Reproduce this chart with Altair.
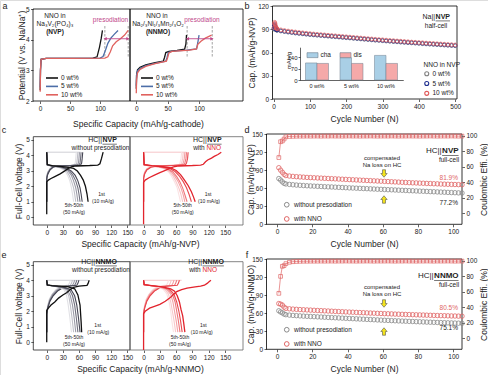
import altair as alt
import pandas as pd

FONT = "Liberation Sans"
W, H = 488, 375
INK = "#222222"
MAG = "#c0478a"
RED1 = "#e2242d"

# ======================= DATA =======================
# (a) first-charge profiles: (capacity mAh/g, potential V)
a_series = ["0 wt%", "5 wt%", "10 wt%"]
a_nvp = {
    "0 wt%": [(0, 2.35), (0.5, 3.0), (1.5, 3.36), (10, 3.39), (50, 3.39), (88, 3.40), (95, 3.44), (99, 3.75), (102, 4.05), (104, 4.3)],
    "5 wt%": [(0, 2.45), (0.5, 3.0), (1.5, 3.36), (10, 3.39), (50, 3.39), (100, 3.40), (105, 3.45), (109, 3.65), (113, 3.88), (118, 4.05), (124, 4.18), (130, 4.3)],
    "10 wt%": [(0, 2.3), (0.5, 3.0), (1.5, 3.36), (10, 3.39), (50, 3.39), (108, 3.40), (113, 3.44), (117, 3.6), (121, 3.8), (127, 3.93), (134, 4.03), (141, 4.15), (147, 4.3)],
}
a_nnmo = {
    "0 wt%": [(0, 2.4), (0.5, 2.85), (2, 3.02), (6, 3.1), (15, 3.18), (30, 3.25), (43, 3.3), (45, 3.42), (47, 3.58), (52, 3.62), (65, 3.65), (77, 3.69), (79, 3.85), (80, 4.15)],
    "5 wt%": [(0, 2.5), (0.5, 2.85), (2, 2.98), (6, 3.06), (15, 3.15), (30, 3.23), (47, 3.3), (49, 3.42), (51, 3.58), (56, 3.62), (80, 3.66), (96, 3.7), (98, 3.9), (100, 4.15)],
    "10 wt%": [(0, 2.25), (0.5, 2.7), (2, 2.92), (6, 3.03), (15, 3.13), (30, 3.22), (48, 3.3), (50, 3.42), (52, 3.57), (57, 3.62), (85, 3.66), (96, 3.7), (98, 3.85), (103, 3.95), (110, 4.05), (120, 4.15)],
}
a_nvp_dash_x = [108, 147]
a_nnmo_dash_x = [81, 121]
a_dash_lo, a_dash_hi = 3.45, 4.45
a_nvp_arrow = [108.5, 146.5]
a_nnmo_arrow = [81.5, 120.5]
a_arrow_v = 4.03

# (b) half-cell cycling
b_series = ["0 wt%", "5 wt%", "10 wt%"]
b_cycles = [1, 2, 3, 4, 5, 6, 7, 8, 9] + list(range(10, 501, 10))
b_gray = [90.0, 91.5, 91.0, 90.5, 90.0, 89.6, 89.3, 89.0, 88.8,
          88.6, 87.6, 86.9, 86.2, 85.6, 85.0, 84.5, 84.0, 83.5, 83.0,
          82.6, 82.2, 81.8, 81.4, 81.0, 80.6, 80.2, 79.8, 79.4, 79.0,
          78.6, 78.2, 77.8, 77.4, 77.0, 76.6, 76.2, 75.8, 75.5, 75.1,
          74.7, 74.4, 74.0, 73.7, 73.3, 73.0, 72.6, 72.3, 72.0, 71.7,
          71.3, 71.0, 70.7, 70.4, 70.1, 69.8, 69.5, 69.2, 68.9, 68.6]
b_blue = [91.0, 95.0, 96.0, 94.0, 92.0, 90.8, 90.0, 89.5, 89.2,
          89.0, 88.0, 87.3, 86.6, 86.0, 85.4, 84.9, 84.4, 83.9, 83.4,
          83.0, 82.6, 82.2, 81.8, 81.4, 81.0, 80.6, 80.2, 79.8, 79.4,
          79.0, 78.6, 78.2, 77.8, 77.4, 77.0, 76.6, 76.2, 75.9, 75.5,
          75.1, 74.8, 74.4, 74.1, 73.7, 73.4, 73.0, 72.7, 72.4, 72.1,
          71.7, 71.4, 71.1, 70.8, 70.5, 70.2, 69.9, 69.6, 69.3, 69.0]
b_red = [92.0, 97.0, 99.0, 97.5, 95.0, 93.0, 92.0, 91.3, 90.8,
         90.4, 89.2, 88.4, 87.7, 87.1, 86.5, 85.9, 85.4, 84.9, 84.4,
         83.9, 83.5, 83.1, 82.7, 82.3, 81.9, 81.5, 81.1, 80.7, 80.3,
         79.9, 79.5, 79.1, 78.7, 78.3, 77.9, 77.5, 77.1, 76.7, 76.4,
         76.0, 75.6, 75.3, 74.9, 74.6, 74.2, 73.9, 73.5, 73.2, 72.9,
         72.6, 72.2, 71.9, 71.6, 71.3, 71.0, 70.7, 70.4, 70.1, 69.8]
ins_groups = ["0 wt%", "5 wt%", "10 wt%"]
ins_kinds = ["cha", "dis"]
ins_cha = [104, 136, 150]
ins_dis = [101, 101, 101]

# (c) HC||NVP full-cell profiles: name -> (charge, discharge)
c_first = ([(0, 0.2), (0, 2.28), (3, 2.4), (8, 2.5), (15, 2.62), (25, 2.8), (33, 2.98), (40, 3.15), (47, 3.27), (55, 3.31), (80, 3.34), (95, 3.37), (99, 3.45), (102, 3.8), (105, 4.2)],
           [(0, 4.2), (1, 3.4), (10, 3.33), (25, 3.28), (40, 3.22), (50, 3.15), (57, 2.98), (63, 2.7), (68, 2.4), (72, 2.0), (75, 1.5), (77, 1.0)])
c_grad = {
    "50th": ([(0, 1.0), (0, 2.7), (2, 2.94), (6, 3.15), (12, 3.28), (20, 3.31), (42, 3.34), (51, 3.38), (53, 3.5), (54, 3.8), (55, 4.2)],
             [(0, 4.2), (1, 3.36), (10, 3.3), (20, 3.24), (27, 3.15), (34, 2.98), (39, 2.7), (43, 2.35), (46, 1.9), (48, 1.5), (50, 1.0)]),
    "35th": ([(0, 1.0), (0, 2.65), (2, 2.9), (6, 3.12), (12, 3.27), (20, 3.31), (45, 3.34), (54, 3.38), (56, 3.5), (57, 3.8), (58, 4.2)],
             [(0, 4.2), (1, 3.37), (10, 3.3), (22, 3.24), (30, 3.15), (37, 2.98), (42, 2.7), (46, 2.35), (50, 1.9), (52, 1.5), (54, 1.0)]),
    "20th": ([(0, 1.0), (0, 2.6), (2, 2.86), (6, 3.1), (12, 3.26), (20, 3.3), (45, 3.34), (57, 3.37), (59, 3.5), (60, 3.8), (61, 4.2)],
             [(0, 4.2), (1, 3.37), (12, 3.3), (24, 3.24), (32, 3.15), (40, 2.98), (46, 2.7), (50, 2.35), (54, 1.9), (56, 1.5), (58, 1.0)]),
    "10th": ([(0, 1.0), (0, 2.55), (2, 2.82), (6, 3.08), (12, 3.25), (20, 3.3), (45, 3.33), (60, 3.37), (62, 3.5), (63, 3.8), (64, 4.2)],
             [(0, 4.2), (1, 3.38), (12, 3.3), (26, 3.24), (35, 3.15), (43, 2.98), (49, 2.7), (54, 2.35), (58, 1.9), (60, 1.5), (62, 1.0)]),
    "5th": ([(0, 1.0), (0, 2.5), (2, 2.78), (6, 3.05), (12, 3.24), (20, 3.3), (45, 3.33), (63, 3.37), (65, 3.5), (66, 3.8), (67, 4.2)],
            [(0, 4.2), (1, 3.38), (12, 3.3), (28, 3.24), (38, 3.15), (46, 2.98), (53, 2.7), (58, 2.35), (62, 1.9), (64, 1.5), (66, 1.0)]),
}
c_top = (63, 4.2)
c_nno_first = ([(0, -0.45), (0, 2.25), (3, 2.4), (10, 2.55), (20, 2.72), (30, 2.88), (40, 3.03), (48, 3.15), (55, 3.25), (65, 3.31), (90, 3.34), (105, 3.37), (110, 3.42), (114, 3.58), (118, 3.7), (125, 3.82), (130, 3.93), (137, 4.05), (143, 4.2)],
               [(0, 4.2), (1, 3.4), (15, 3.33), (35, 3.26), (50, 3.18), (60, 3.02), (68, 2.75), (75, 2.42), (82, 2.05), (88, 1.65), (92, 1.3), (95, 1.0)])
c_nno_grad = {
    "50th": ([(0, 1.0), (0, 2.7), (2, 2.94), (6, 3.15), (14, 3.28), (25, 3.31), (48, 3.35), (65, 3.38), (67, 3.5), (69, 3.8), (70, 4.2)],
             [(0, 4.2), (1, 3.37), (12, 3.3), (27, 3.24), (38, 3.12), (46, 2.92), (52, 2.62), (57, 2.27), (62, 1.88), (65, 1.45), (68, 1.0)]),
    "35th": ([(0, 1.0), (0, 2.65), (2, 2.9), (6, 3.12), (14, 3.27), (25, 3.31), (50, 3.35), (68, 3.38), (70, 3.5), (72, 3.8), (73, 4.2)],
             [(0, 4.2), (1, 3.37), (13, 3.3), (29, 3.24), (40, 3.12), (48, 2.92), (55, 2.62), (60, 2.27), (65, 1.88), (69, 1.45), (72, 1.0)]),
    "20th": ([(0, 1.0), (0, 2.6), (2, 2.88), (6, 3.1), (14, 3.26), (25, 3.31), (52, 3.34), (71, 3.38), (73, 3.5), (75, 3.8), (76, 4.2)],
             [(0, 4.2), (1, 3.38), (14, 3.3), (31, 3.24), (43, 3.12), (51, 2.92), (58, 2.62), (64, 2.27), (69, 1.88), (73, 1.45), (76, 1.0)]),
    "10th": ([(0, 1.0), (0, 2.55), (2, 2.84), (6, 3.08), (14, 3.25), (25, 3.3), (55, 3.34), (74, 3.38), (76, 3.5), (78, 3.8), (79, 4.2)],
             [(0, 4.2), (1, 3.38), (15, 3.31), (33, 3.24), (45, 3.12), (54, 2.92), (61, 2.62), (67, 2.27), (72, 1.88), (76, 1.45), (80, 1.0)]),
    "5th": ([(0, 1.0), (0, 2.5), (2, 2.8), (6, 3.05), (14, 3.24), (25, 3.3), (55, 3.34), (77, 3.38), (79, 3.5), (81, 3.8), (82, 4.2)],
            [(0, 4.2), (1, 3.4), (15, 3.32), (35, 3.25), (48, 3.15), (58, 2.95), (66, 2.65), (73, 2.3), (79, 1.9), (84, 1.45), (88, 1.0)]),
}
c_nno_top = (79, 4.2)

# (e) HC||NNMO full-cell profiles
e_first = ([(0, 0.0), (0, 2.05), (3, 2.2), (8, 2.4), (15, 2.6), (22, 2.85), (30, 3.05), (37, 3.2), (44, 3.4), (50, 3.55), (60, 3.62), (75, 3.67), (77, 3.8), (79, 4.0)],
           [(0, 4.0), (1, 3.7), (10, 3.66), (37, 3.6), (52, 3.45), (58, 3.06), (62, 2.4), (64, 1.33), (65, 0.65)])
e_grad = {
    "50th": ([(0, 0.65), (0, 2.0), (2, 2.4), (5, 2.8), (10, 3.1), (16, 3.36), (23, 3.56), (32, 3.64), (40, 3.69), (42, 3.8), (44, 4.0)],
             [(0, 4.0), (1, 3.7), (8, 3.65), (22, 3.56), (32, 3.4), (37, 3.0), (40, 2.4), (43, 1.6), (46, 0.65)]),
    "35th": ([(0, 0.65), (0, 1.95), (2, 2.35), (5, 2.75), (10, 3.08), (17, 3.35), (25, 3.55), (34, 3.63), (44, 3.68), (46, 3.8), (48, 4.0)],
             [(0, 4.0), (1, 3.7), (8, 3.65), (24, 3.56), (35, 3.4), (41, 3.0), (44, 2.4), (47, 1.6), (50, 0.65)]),
    "20th": ([(0, 0.65), (0, 1.9), (2, 2.3), (6, 2.75), (11, 3.07), (18, 3.33), (27, 3.54), (36, 3.63), (48, 3.68), (50, 3.8), (52, 4.0)],
             [(0, 4.0), (1, 3.7), (9, 3.65), (26, 3.56), (38, 3.4), (44, 3.0), (48, 2.4), (51, 1.6), (54, 0.65)]),
    "10th": ([(0, 0.65), (0, 1.85), (2, 2.25), (6, 2.7), (12, 3.05), (20, 3.33), (29, 3.53), (38, 3.62), (52, 3.68), (54, 3.8), (56, 4.0)],
             [(0, 4.0), (1, 3.7), (10, 3.65), (28, 3.56), (42, 3.4), (48, 3.0), (52, 2.4), (55, 1.6), (58, 0.65)]),
    "5th": ([(0, 0.65), (0, 1.8), (2, 2.2), (6, 2.65), (12, 3.0), (20, 3.3), (30, 3.52), (40, 3.62), (56, 3.68), (58, 3.8), (60, 4.0)],
            [(0, 4.0), (1, 3.7), (10, 3.65), (30, 3.56), (45, 3.4), (52, 3.0), (56, 2.4), (59, 1.6), (62, 0.65)]),
}
e_top = (77, 4.0)
e_nno_first = ([(0, -0.5), (0, 1.85), (3, 2.0), (11, 2.2), (20, 2.32), (30, 2.45), (40, 2.65), (48, 2.85), (55, 3.08), (61, 3.27), (70, 3.4), (80, 3.5), (95, 3.57), (105, 3.62), (112, 3.68), (117, 3.8), (121, 3.92), (124, 4.0)],
               [(0, 4.0), (1, 3.72), (15, 3.66), (35, 3.58), (50, 3.45), (57, 3.3), (62, 3.0), (66, 2.6), (69, 2.1), (72, 1.7), (74, 1.2), (76, 0.65)])
e_nno_grad = {
    "50th": ([(0, 0.65), (0, 2.0), (2, 2.4), (5, 2.8), (10, 3.1), (16, 3.36), (23, 3.56), (32, 3.64), (42, 3.69), (44, 3.8), (46, 4.0)],
             [(0, 4.0), (1, 3.7), (9, 3.66), (24, 3.58), (36, 3.42), (43, 3.1), (47, 2.6), (50, 2.0), (52, 1.4), (55, 0.65)]),
    "35th": ([(0, 0.65), (0, 1.95), (2, 2.35), (5, 2.75), (10, 3.08), (17, 3.35), (25, 3.55), (34, 3.63), (47, 3.68), (49, 3.8), (51, 4.0)],
             [(0, 4.0), (1, 3.71), (10, 3.66), (26, 3.58), (39, 3.42), (46, 3.1), (50, 2.6), (53, 2.0), (56, 1.4), (59, 0.65)]),
    "20th": ([(0, 0.65), (0, 1.9), (2, 2.3), (6, 2.75), (11, 3.07), (18, 3.33), (27, 3.54), (37, 3.63), (52, 3.68), (54, 3.8), (56, 4.0)],
             [(0, 4.0), (1, 3.71), (11, 3.66), (28, 3.58), (42, 3.42), (50, 3.1), (54, 2.6), (57, 2.0), (60, 1.4), (63, 0.65)]),
    "10th": ([(0, 0.65), (0, 1.85), (2, 2.25), (6, 2.7), (12, 3.05), (20, 3.33), (30, 3.53), (40, 3.62), (57, 3.68), (59, 3.8), (61, 4.0)],
             [(0, 4.0), (1, 3.72), (12, 3.66), (30, 3.58), (45, 3.42), (53, 3.1), (58, 2.6), (61, 2.0), (64, 1.4), (67, 0.65)]),
    "5th": ([(0, 0.65), (0, 1.8), (2, 2.2), (6, 2.65), (12, 3.0), (20, 3.3), (30, 3.52), (42, 3.62), (62, 3.68), (64, 3.8), (66, 4.0)],
            [(0, 4.0), (1, 3.72), (12, 3.66), (32, 3.58), (48, 3.42), (56, 3.1), (61, 2.6), (65, 2.0), (68, 1.4), (71, 0.65)]),
}
e_nno_top = (70, 4.0)

# (d)/(f) full-cell cycling
full_series = ["without presodiation", "with NNO"]
d_cycles = [1, 2, 3, 4] + list(range(5, 106, 2))
d_gray = [76.0, 73.5, 70.5, 68.0,
          67.0, 66.3, 65.7, 65.2, 64.8, 64.4, 64.0, 63.7, 63.4, 63.1,
          62.8, 62.5, 62.2, 62.0, 61.7, 61.4, 61.1, 60.8, 60.5, 60.3,
          60.0, 59.7, 59.4, 59.2, 58.9, 58.6, 58.3, 58.1, 57.8, 57.5,
          57.3, 57.0, 56.7, 56.5, 56.2, 55.9, 55.7, 55.4, 55.1, 54.9,
          54.6, 54.3, 54.1, 53.8, 53.5, 53.3, 53.0, 52.7, 52.5, 52.2,
          52.0]
d_red = [94.0, 90.0, 86.5, 83.0,
         81.0, 80.2, 79.6, 79.1, 78.7, 78.3, 77.9, 77.6, 77.3, 77.0,
         76.7, 76.4, 76.1, 75.8, 75.5, 75.2, 74.9, 74.6, 74.3, 74.0,
         73.7, 73.4, 73.1, 72.8, 72.5, 72.2, 71.9, 71.6, 71.3, 71.0,
         70.7, 70.4, 70.1, 69.8, 69.5, 69.2, 68.9, 68.7, 68.4, 68.2,
         67.9, 67.7, 67.4, 67.2, 66.9, 66.7, 66.5, 66.3, 66.1, 65.9,
         65.7]
d_ce = [72.0, 92.5, 93.5, 96.0,
        98.8, 99.3, 99.5, 99.6, 99.7, 99.7, 99.8, 99.7, 99.8, 99.8,
        99.7, 99.8, 99.8, 99.9, 99.8, 99.8, 99.7, 99.8, 99.9, 99.8,
        99.8, 99.7, 99.8, 99.8, 99.9, 99.8, 99.7, 99.8, 99.8, 99.8,
        99.9, 99.8, 99.7, 99.8, 99.8, 99.9, 99.8, 99.8, 99.7, 99.8,
        99.8, 99.9, 99.8, 99.7, 99.8, 99.8, 99.8, 99.9, 99.8, 99.7,
        99.8]
f_gray = [64.0, 62.0, 60.5, 58.5,
          57.5, 56.8, 56.3, 55.9, 55.5, 55.1, 54.8, 54.5, 54.2, 53.9,
          53.6, 53.3, 53.0, 52.7, 52.4, 52.1, 51.8, 51.5, 51.2, 50.9,
          50.6, 50.3, 50.0, 49.7, 49.4, 49.1, 48.8, 48.5, 48.2, 48.0,
          47.7, 47.4, 47.2, 46.9, 46.7, 46.4, 46.2, 45.9, 45.7, 45.5,
          45.2, 45.0, 44.8, 44.6, 44.4, 44.2, 44.0, 43.8, 43.6, 43.4,
          43.2]
f_red = [76.0, 75.0, 73.5, 70.0,
         68.0, 67.3, 66.8, 66.4, 66.0, 65.7, 65.4, 65.1, 64.8, 64.5,
         64.2, 63.9, 63.6, 63.3, 63.0, 62.7, 62.4, 62.1, 61.8, 61.6,
         61.3, 61.0, 60.8, 60.5, 60.2, 60.0, 59.7, 59.5, 59.2, 59.0,
         58.8, 58.5, 58.3, 58.1, 57.9, 57.7, 57.5, 57.3, 57.1, 56.9,
         56.7, 56.5, 56.3, 56.1, 55.9, 55.8, 55.6, 55.4, 55.3, 55.1,
         55.0]
f_ce = [58.0, 80.0, 93.0, 94.0,
        96.5, 98.3, 99.0, 99.3, 99.5, 99.6, 99.6, 99.7, 99.7, 99.7,
        99.8, 99.7, 99.8, 99.8, 99.7, 99.8, 99.8, 99.9, 99.8, 99.8,
        99.7, 99.8, 99.8, 99.9, 99.8, 99.7, 99.8, 99.8, 99.8, 99.9,
        99.8, 99.7, 99.8, 99.8, 99.9, 99.8, 99.8, 99.7, 99.8, 99.8,
        99.9, 99.8, 99.7, 99.8, 99.8, 99.8, 99.9, 99.8, 99.7, 99.8,
        99.8]

# ======================= STYLE =======================
A_COLORS = ["#141414", "#4c6ea8", "#e0625e"]
B_COLORS = ["#808080", "#1f2f8f", "#e05a5a"]
GRAY_GRAD = ["#e2e2e6", "#c0c0c8", "#9a9aa6", "#70707e", "#474755"]
RED_GRAD = ["#fbe3e4", "#f8c8ca", "#f4a3a6", "#ee787c", "#e8474e"]
FULL_COLORS = ["#8a8a8a", "#e06666"]
INS_COLORS = ["#a9cfe6", "#f5a9a9"]


def sc(dom, rng):
    return alt.Scale(domain=list(dom), range=list(rng), nice=False, zero=False)


def mk_axis(orient, offset, values, title=None, tx=0, ty=0, angle=None, size=6.5):
    kw = dict(orient=orient, offset=offset, values=values, grid=False, domain=False,
              tickSize=2.5, tickWidth=0.7, tickColor=INK, labelColor=INK,
              labelFont=FONT, labelFontSize=size, labelPadding=1.5, labelAngle=0)
    if title is None:
        kw["title"] = None
    else:
        kw.update(title=title, titleX=tx, titleY=ty, titleFont=FONT, titleFontSize=8.5,
                  titleFontWeight="normal", titleColor=INK, titleAlign="center",
                  titleBaseline="middle")
        if angle is not None:
            kw["titleAngle"] = angle
    return alt.Axis(**kw)


def frame(xs, ys, xd, yd, xaxis, yaxis, color=INK):
    df = pd.DataFrame({"x0": [xd[0]], "x1": [xd[1]], "y0": [yd[0]], "y1": [yd[1]]})
    return alt.Chart(df).mark_rect(filled=False, color=color, strokeWidth=0.8).encode(
        x=alt.X("x0:Q", scale=xs, axis=xaxis), x2="x1:Q",
        y=alt.Y("y0:Q", scale=ys, axis=yaxis), y2="y1:Q")


def rows_of(name, pts):
    return [{"s": name, "x": x, "y": y, "i": i} for i, (x, y) in enumerate(pts)]


def grad_layers(curves, colors, xs, ys, width=1.1):
    out = []
    for part in (0, 1):
        rows = []
        for name, parts in curves.items():
            rows += rows_of(name, parts[part])
        out.append(alt.Chart(pd.DataFrame(rows)).mark_line(strokeWidth=width).encode(
            x=alt.X("x:Q", scale=xs, axis=None), y=alt.Y("y:Q", scale=ys, axis=None),
            color=alt.Color("s:N", scale=alt.Scale(domain=list(curves), range=colors), legend=None),
            order="i:Q"))
    return out


def first_layers(curve, color, xs, ys, width=1.3):
    return [alt.Chart(pd.DataFrame(rows_of("1st", pts))).mark_line(strokeWidth=width, color=color).encode(
        x=alt.X("x:Q", scale=xs, axis=None), y=alt.Y("y:Q", scale=ys, axis=None), order="i:Q")
        for pts in curve]


def top_layer(seg, color, xs, ys):
    df = pd.DataFrame({"x0": [0], "x1": [seg[0]], "v": [seg[1]]})
    return alt.Chart(df).mark_rule(color=color, strokeWidth=1.0).encode(
        x=alt.X("x0:Q", scale=xs, axis=None), x2="x1:Q", y=alt.Y("v:Q", scale=ys, axis=None))


def T(text, x, y, size=6.5, color=INK, weight="normal", align="center"):
    return alt.Chart(pd.DataFrame({"t": [text]})).mark_text(
        font=FONT, fontSize=size, color=color, fontWeight=weight, align=align, baseline="middle"
    ).encode(x=alt.value(x), y=alt.value(y), text="t:N")


def U(x1, x2, y, color=INK):
    return alt.Chart(pd.DataFrame({"k": [0]})).mark_rule(color=color, strokeWidth=0.6).encode(
        x=alt.value(x1), x2=alt.value(x2), y=alt.value(y))


def SYM(shape, x, y, size, fill, stroke="#555555"):
    return alt.Chart(pd.DataFrame({"k": [0]})).mark_point(
        shape=shape, size=size, filled=True, fill=fill, stroke=stroke, strokeWidth=0.6, opacity=1
    ).encode(x=alt.value(x), y=alt.value(y))


EM = {"HC||": 1.964, "Na||": 1.798, "NVP": 2.056, "NNMO": 3.055}


def cell_label(prefix, bold, split, y, size):
    w = EM[bold] * size
    return [T(prefix, split, y, size, align="right"),
            T(bold, split + 0.5, y, size, weight="bold", align="left"),
            U(split + 0.5, split + 0.5 + w, y + size * 0.6)]


layers = []

# ---------------- panel a ----------------
a_y = sc([2, 5], [101, 9])
for curves, xd, xr, dash_x, arrow, show_y, lx in [
    (a_nvp, [-12, 150], [33, 130], a_nvp_dash_x, a_nvp_arrow, True, 48.0),
    (a_nnmo, [-10, 170], [130, 243], a_nnmo_dash_x, a_nnmo_arrow, False, 143.0),
]:
    xs = sc(xd, xr)
    xaxis = (mk_axis("bottom", 101 - H, [0, 50, 100], "Specific Capacity (mAh/g-cathode)", tx=138, ty=22)
             if show_y else mk_axis("bottom", 101 - H, [0, 50, 100]))
    yaxis = (mk_axis("left", -33, [2, 3, 4, 5], "Potential (V vs. Na/Na⁺)", tx=-12, ty=55, angle=270)
             if show_y else None)
    layers.append(frame(xs, a_y, xd, [2, 5], xaxis, yaxis, color="#000000"))
    dash_df = pd.DataFrame({"x": dash_x, "lo": [a_dash_lo] * len(dash_x), "hi": [a_dash_hi] * len(dash_x)})
    layers.append(alt.Chart(dash_df).mark_rule(strokeDash=[2.5, 1.5], strokeWidth=0.8, color="#8a8a8a").encode(
        x=alt.X("x:Q", scale=xs, axis=None), y=alt.Y("lo:Q", scale=a_y, axis=None), y2="hi:Q"))
    rows = []
    for name, pts in curves.items():
        rows += rows_of(name, pts)
    layers.append(alt.Chart(pd.DataFrame(rows)).mark_line(strokeWidth=1.3).encode(
        x=alt.X("x:Q", scale=xs, axis=None), y=alt.Y("y:Q", scale=a_y, axis=None),
        color=alt.Color("s:N", scale=alt.Scale(domain=a_series, range=A_COLORS),
                        legend=alt.Legend(orient="none", legendX=lx, legendY=74, title=None,
                                          symbolType="M-2,0L2,0", symbolSize=36, symbolStrokeWidth=1.6,
                                          labelFont=FONT, labelFontSize=6.5, labelColor=INK,
                                          labelOffset=5, rowPadding=0.4, padding=0)),
        order="i:Q"))
    arr_df = pd.DataFrame({"x0": [arrow[0]], "x1": [arrow[1]], "v": [a_arrow_v]})
    layers.append(alt.Chart(arr_df).mark_rule(strokeWidth=0.9, color=MAG).encode(
        x=alt.X("x0:Q", scale=xs, axis=None), x2="x1:Q", y=alt.Y("v:Q", scale=a_y, axis=None)))
    layers.append(alt.Chart(arr_df).mark_point(shape="triangle-left", size=14, filled=True, color=MAG, opacity=1).encode(
        x=alt.X("x0:Q", scale=xs, axis=None), y=alt.Y("v:Q", scale=a_y, axis=None)))
    layers.append(alt.Chart(arr_df).mark_point(shape="triangle-right", size=14, filled=True, color=MAG, opacity=1).encode(
        x=alt.X("x1:Q", scale=xs, axis=None), y=alt.Y("v:Q", scale=a_y, axis=None)))

# ---------------- panel b ----------------
b_x = sc([-3, 505], [272.5, 457])
b_y = sc([0, 120], [99, 6])
layers.append(frame(b_x, b_y, [-3, 505], [0, 120],
                    mk_axis("bottom", 99 - H, [0, 100, 200, 300, 400, 500], "Cycle Number (N)", tx=364, ty=19),
                    mk_axis("left", -272.5, [0, 30, 60, 90, 120], "Cap. (mAh/g-NVP)", tx=-21.5, ty=52.5, angle=270),
                    color="#000000"))
b_rows = []
for name, vals in zip(b_series, [b_gray, b_blue, b_red]):
    b_rows += [{"s": name, "c": c, "v": v} for c, v in zip(b_cycles, vals)]
layers.append(alt.Chart(pd.DataFrame(b_rows)).mark_point(filled=False, size=14, strokeWidth=0.7, opacity=1).encode(
    x=alt.X("c:Q", scale=b_x, axis=None), y=alt.Y("v:Q", scale=b_y, axis=None),
    color=alt.Color("s:N", scale=alt.Scale(domain=b_series, range=B_COLORS),
                    legend=alt.Legend(orient="none", legendX=423.5, legendY=62, title="NNO in NVP",
                                      titleFont=FONT, titleFontSize=6.5, titleFontWeight="normal",
                                      titleColor=INK, titlePadding=2, labelFont=FONT, labelFontSize=6.5,
                                      labelColor=INK, labelOffset=2.5, rowPadding=0.8, padding=0,
                                      symbolSize=16, symbolStrokeWidth=1.1, symbolType="circle"))))

# inset bars
ins_rows = []
for g, ch, di in zip(ins_groups, ins_cha, ins_dis):
    ins_rows.append({"g": g, "k": "cha", "v": ch, "b": 0})
    ins_rows.append({"g": g, "k": "dis", "v": di, "b": 0})
layers.append(alt.Chart(pd.DataFrame(ins_rows)).mark_bar(stroke="#6f7f8f", strokeWidth=0.5).encode(
    x=alt.X("g:N", sort=ins_groups,
            scale=alt.Scale(domain=ins_groups, range=[299.75, 403.25], paddingInner=0.333, paddingOuter=0.167),
            axis=alt.Axis(orient="bottom", offset=80 - H, domain=True, domainColor=INK, domainWidth=0.7,
                          ticks=False, labelAngle=0, labelFont=FONT, labelFontSize=5.5, labelColor=INK,
                          labelPadding=3, title=None, grid=False)),
    xOffset=alt.XOffset("k:N", sort=ins_kinds, scale=alt.Scale(domain=ins_kinds, paddingInner=0, paddingOuter=0)),
    y=alt.Y("v:Q", stack=None, scale=sc([0, 200], [80, 47.2]),
            axis=alt.Axis(orient="left", offset=-300, values=[0, 70, 140], domain=True, domainColor=INK,
                          domainWidth=0.7, tickSize=2, tickWidth=0.7, tickColor=INK, labelFont=FONT,
                          labelFontSize=6, labelColor=INK, labelPadding=1, grid=False,
                          title="mAh/g", titleFont=FONT, titleFontSize=6, titleFontWeight="normal",
                          titleColor=INK, titleX=-12, titleY=60, titleAngle=270, titleAlign="center",
                          titleBaseline="middle")),
    y2="b:Q",
    color=alt.Color("k:N", scale=alt.Scale(domain=ins_kinds, range=INS_COLORS),
                    legend=alt.Legend(orient="none", legendX=306.5, legendY=49, title=None, direction="horizontal",
                                      symbolType="M-1,-0.45L1,-0.45L1,0.45L-1,0.45Z", symbolSize=121,
                                      symbolStrokeColor="#6f7f8f", symbolStrokeWidth=0.6,
                                      labelFont=FONT, labelFontSize=6.5, labelColor=INK, labelOffset=2,
                                      columnPadding=7, padding=0))))

# ---------------- panels c / e ----------------
for top_shift, first_L, grad_L, seg_L, first_R, grad_R, seg_R, xtitle in [
    (0, c_first, c_grad, c_top, c_nno_first, c_nno_grad, c_nno_top, "Specific Capacity (mAh/g-NVP)"),
    (125, e_first, e_grad, e_top, e_nno_first, e_nno_grad, e_nno_top, "Specific Capacity (mAh/g-NNMO)"),
]:
    bottom, top = 225 + top_shift, 136.7 + top_shift
    ys = sc([-0.5, 5.2], [bottom, top])
    xsL = sc([-25, 155], [33.3, 130])
    xsR = sc([-25, 183], [130, 243])
    layers.append(frame(xsL, ys, [-25, 155], [-0.5, 5.2],
                        mk_axis("bottom", bottom - H, [0, 30, 60, 90, 120, 150], xtitle, tx=140, ty=18),
                        mk_axis("left", -33.3, [0, 1, 2, 3, 4, 5], "Full-Cell Voltage (V)", tx=-15.3,
                                ty=(bottom + top) / 2, angle=270), color="#222222"))
    layers.append(frame(xsR, ys, [-25, 183], [-0.5, 5.2],
                        mk_axis("bottom", bottom - H, [0, 30, 60, 90, 120, 150]), None, color="#666666"))
    layers.append(top_layer(seg_L, "#cfcfd5", xsL, ys))
    layers.append(top_layer(seg_R, "#f6c6c8", xsR, ys))
    layers += grad_layers(grad_L, GRAY_GRAD, xsL, ys) + first_layers(first_L, "#111111", xsL, ys)
    layers += grad_layers(grad_R, RED_GRAD, xsR, ys) + first_layers(first_R, RED1, xsR, ys)

# ---------------- panels d / f ----------------
for top_shift, gray, red, ce, ytitle in [
    (0, d_gray, d_red, d_ce, "Cap. (mAh/g-NVP)"),
    (125, f_gray, f_red, f_ce, "Cap. (mAh/g-NNMO)"),
]:
    bottom, top = 224.3 + top_shift, 134 + top_shift
    xs = sc([-6, 105], [266.5, 462])
    ys = sc([0, 150], [bottom, top])
    ys_ce = sc([-14.5, 102.5], [bottom, top])
    layers.append(frame(xs, ys, [-6, 105], [0, 150],
                        mk_axis("bottom", bottom - H, [0, 20, 40, 60, 80, 100], "Cycle Number (N)", tx=364, ty=18.7),
                        mk_axis("left", -266.5, [0, 30, 60, 90, 120, 150], ytitle, tx=-16.5,
                                ty=(bottom + top) / 2, angle=270), color="#000000"))
    rows = []
    for name, vals in zip(full_series, [gray, red]):
        rows += [{"s": name, "c": c, "v": v} for c, v in zip(d_cycles, vals)]
    layers.append(alt.Chart(pd.DataFrame(rows)).mark_point(filled=False, size=20, strokeWidth=0.8, opacity=1).encode(
        x=alt.X("c:Q", scale=xs, axis=None), y=alt.Y("v:Q", scale=ys, axis=None),
        color=alt.Color("s:N", scale=alt.Scale(domain=full_series, range=FULL_COLORS),
                        legend=alt.Legend(orient="none", legendX=283.5, legendY=201.5 + top_shift, title=None,
                                          labelFont=FONT, labelFontSize=6.5, labelColor=INK, labelOffset=4,
                                          rowPadding=4.2, padding=0, symbolSize=22, symbolStrokeWidth=1.0,
                                          symbolType="circle"))))
    ce_df = pd.DataFrame({"c": d_cycles, "v": ce})
    layers.append(alt.Chart(ce_df).mark_line(color=FULL_COLORS[1], strokeWidth=0.7).encode(
        x=alt.X("c:Q", scale=xs, axis=None),
        y=alt.Y("v:Q", scale=ys_ce,
                axis=mk_axis("right", 462 - W, [0, 20, 40, 60, 80, 100], "Coulombic Effi. (%)", tx=21,
                             ty=(bottom + top) / 2, angle=270))))
    layers.append(alt.Chart(ce_df).mark_point(shape="square", filled=False, size=14, strokeWidth=0.7,
                                              color=FULL_COLORS[1], opacity=1).encode(
        x=alt.X("c:Q", scale=xs, axis=None), y=alt.Y("v:Q", scale=ys_ce, axis=None)))

# ---------------- annotations ----------------
DOWN = "M-0.4,-1L0.4,-1L0.4,0L0.85,0L0,1L-0.85,0L-0.4,0Z"
UP = "M-0.4,1L0.4,1L0.4,0L0.85,0L0,-1L-0.85,0L-0.4,0Z"
ann = [
    T("a", 5, 6, 9), T("b", 247, 6, 9), T("c", 4, 130, 9), T("d", 247, 130, 9),
    T("e", 4, 255, 9), T("f", 247, 255, 9),
    T("NNO in", 55, 15.5), T("Na₃V₂(PO₄)₃", 55, 23.5), T("(NVP)", 55, 31.5, weight="bold"),
    T("presodiation", 110.5, 20, 6.5, MAG),
    T("NNO in", 157, 15.5), T("Na₂/₃Ni₁/₃Mn₂/₃O₂", 158, 23.5), T("(NNMO)", 158, 31.5, weight="bold"),
    T("presodiation", 202, 20, 6.5, MAG),
    T("half-cell", 436, 25.5, 6.5),
    T("without presodiation", 100.5, 147.5), T("1st", 101.5, 194, 5), T("(10 mA/g)", 103, 200.5, 5),
    T("5th-50th", 74, 205, 5), T("(50 mA/g)", 74, 211.5, 5),
    T("with", 204.7, 147.5, align="right"), T("NNO", 206.5, 147.5, color=RED1, align="left"),
    T("1st", 208, 194, 5), T("(10 mA/g)", 209, 200.5, 5),
    T("5th-50th", 182.7, 205, 5), T("(50 mA/g)", 182.7, 211.5, 5),
    T("without presodiation", 101, 270), T("1st", 97.7, 325, 5), T("(10 mA/g)", 98.3, 331.5, 5),
    T("5th-50th", 74, 337, 5), T("(50 mA/g)", 74, 343.5, 5),
    T("with", 200.7, 270, align="right"), T("NNO", 202.5, 270, color=RED1, align="left"),
    T("1st", 203.3, 325, 5), T("(10 mA/g)", 201.7, 331.5, 5),
    T("5th-50th", 180, 337, 5), T("(50 mA/g)", 180, 343.5, 5),
    T("full-cell", 449, 159.5), T("compensated", 382, 157.5, 6), T("Na loss on HC", 382, 164.5, 6),
    T("81.9%", 458, 177.5, 6.5, "#e06666", align="right"), T("77.2%", 458, 202.5, 6.5, align="right"),
    SYM(DOWN, 384, 173.5, 56, "#f3e31c"), SYM(UP, 384, 199.5, 56, "#f3e31c"),
    T("full-cell", 449, 284.5), T("compensated", 382, 286.5, 6), T("Na loss on HC", 382, 293.5, 6),
    T("80.5%", 458, 308, 6.5, "#e06666", align="right"), T("75.1%", 458, 327.5, 6.5, align="right"),
    SYM(DOWN, 384, 303.5, 56, "#f3e31c"), SYM(UP, 384, 331.5, 56, "#f3e31c"),
]
ann += cell_label("Na||", "NVP", 435.1, 16.7, 7)
ann += cell_label("HC||", "NVP", 102, 140, 7)
ann += cell_label("HC||", "NVP", 206.7, 140, 7)
ann += cell_label("HC||", "NNMO", 95, 261.7, 7)
ann += cell_label("HC||", "NNMO", 202, 261.7, 7)
ann += cell_label("HC||", "NVP", 441.6, 150.7, 8)
ann += cell_label("HC||", "NNMO", 433.6, 275.7, 8)
layers += ann

chart = alt.layer(*layers).resolve_scale(
    x="independent", y="independent", color="independent"
).properties(
    width=W, height=H, padding=0, autosize=alt.AutoSizeParams(type="none")
).configure_view(stroke=None).configure(font=FONT)

chart.save("out.html", embed_options={"renderer": "svg", "actions": False})
